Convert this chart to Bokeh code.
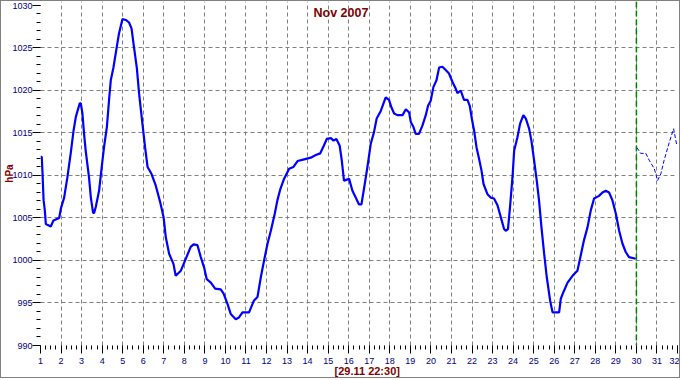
import math
import numpy as np
from bokeh.plotting import figure
from bokeh.models import Range1d, FixedTicker, Span, Label, Title
from bokeh.embed import file_html
from bokeh.resources import INLINE

# measured pressure (day of month, hPa)
day = [1.00, 1.06, 1.10, 1.15, 1.21, 1.26, 1.50, 1.63, 1.91, 1.99, 2.15, 2.31, 2.47, 2.61,
       2.72, 2.91, 2.96, 3.04, 3.12, 3.20, 3.36, 3.45, 3.56, 3.61, 3.69, 3.85, 3.98, 4.09,
       4.23, 4.34, 4.42, 4.55, 4.71, 4.82, 4.99, 5.15, 5.31, 5.43, 5.55, 5.69, 5.80, 5.96,
       6.09, 6.21, 6.40, 6.61, 6.82, 6.99, 7.10, 7.26, 7.47, 7.58, 7.83, 8.07, 8.31, 8.45,
       8.64, 8.80, 8.96, 9.09, 9.29, 9.50, 9.77, 9.91, 10.10, 10.26, 10.50, 10.66, 10.83,
       11.15, 11.39, 11.56, 11.72, 11.88, 12.05, 12.21, 12.40, 12.53, 12.66, 12.85, 13.10,
       13.31, 13.51, 13.83, 14.15, 14.40, 14.61, 14.77, 14.93, 15.13, 15.26, 15.40, 15.56,
       15.66, 15.77, 16.02, 16.18, 16.34, 16.50, 16.62, 16.78, 16.91, 17.07, 17.23, 17.36,
       17.56, 17.80, 17.96, 18.08, 18.21, 18.37, 18.62, 18.78, 18.94, 19.02, 19.15, 19.26,
       19.42, 19.59, 19.75, 19.86, 19.99, 20.12, 20.27, 20.40, 20.56, 20.72, 20.88, 21.05,
       21.21, 21.29, 21.45, 21.61, 21.78, 21.89, 21.99, 22.10, 22.22, 22.34, 22.46, 22.56,
       22.75, 22.91, 23.07, 23.24, 23.40, 23.56, 23.64, 23.75, 23.85, 23.97, 24.05, 24.21,
       24.34, 24.50, 24.62, 24.78, 24.89, 25.02, 25.15, 25.26, 25.38, 25.51, 25.64, 25.80,
       25.92, 26.24, 26.32, 26.45, 26.65, 26.89, 27.13, 27.29, 27.45, 27.62, 27.78, 27.94,
       28.18, 28.35, 28.51, 28.67, 28.83, 29.00, 29.16, 29.32, 29.48, 29.64, 29.97]
hpa = [1012.2, 1012.2, 1010.2, 1007.1, 1005.9, 1004.3, 1004.0, 1004.7, 1005.0, 1006.1,
       1007.4, 1009.8, 1012.6, 1015.3, 1016.9, 1018.5, 1018.5, 1017.3, 1014.9, 1012.9,
       1009.8, 1007.4, 1005.6, 1005.6, 1006.3, 1008.2, 1011.0, 1013.3, 1015.7, 1019.0,
       1021.2, 1022.7, 1025.1, 1026.7, 1028.4, 1028.3, 1028.0, 1027.3, 1025.1, 1022.6,
       1019.6, 1016.1, 1013.3, 1011.0, 1010.2, 1008.8, 1006.9, 1005.1, 1002.7, 1000.8,
       999.6, 998.2, 998.8, 1000.2, 1001.6, 1001.9, 1001.8, 1000.4, 999.2, 997.8, 997.4,
       996.7, 996.6, 996.1, 994.9, 993.7, 993.1, 993.3, 993.9, 993.9, 995.3, 995.7, 998.0,
       1000.0, 1002.0, 1003.5, 1005.5, 1007.1, 1008.3, 1009.6, 1010.8, 1011.0, 1011.7,
       1011.9, 1012.1, 1012.4, 1012.6, 1013.4, 1014.3, 1014.4, 1014.1, 1014.3, 1013.5,
       1011.8, 1009.4, 1009.6, 1008.2, 1007.4, 1006.6, 1006.6, 1009.0, 1011.0, 1013.7,
       1015.1, 1016.7, 1017.6, 1019.2, 1018.9, 1018.0, 1017.3, 1017.1, 1017.1, 1017.8,
       1017.4, 1016.3, 1015.7, 1014.9, 1014.9, 1015.9, 1017.1, 1018.2, 1018.8, 1020.4,
       1021.2, 1022.7, 1022.8, 1022.4, 1022.0, 1021.0, 1020.2, 1019.7, 1020.0, 1018.9,
       1018.9, 1018.2, 1016.7, 1015.3, 1013.3, 1012.0, 1010.6, 1009.0, 1007.8, 1007.4,
       1007.3, 1006.5, 1005.1, 1003.7, 1003.5, 1003.7, 1006.3, 1009.8, 1012.9, 1014.5,
       1016.1, 1017.1, 1016.7, 1015.5, 1014.1, 1011.8, 1009.4, 1007.1, 1003.9, 1000.8,
       998.0, 995.3, 993.9, 993.9, 995.5, 996.3, 997.4, 998.2, 998.8, 1000.6, 1002.4,
       1003.9, 1005.9, 1007.3, 1007.6, 1008.0, 1008.2, 1008.0, 1007.1, 1005.5, 1003.5,
       1002.0, 1001.0, 1000.4, 1000.2]

# forecast
fc_day = [30.02, 30.21, 30.46, 30.62, 30.87, 31.03, 31.19, 31.35, 31.60, 31.81, 31.97]
fc_hpa = [1013.3, 1012.6, 1012.6, 1011.8, 1010.8, 1009.4, 1010.2, 1011.8, 1013.9, 1015.5, 1013.5]

x_ticks = list(range(1, 33))
y_ticks = list(range(990, 1031, 5))
now_day = 30.0
title_text = "Nov 2007"
time_text = "[29.11 22:30]"
unit_text = "hPa"

DARKRED = "#800000"
NAVY = "#000080"
FONT = "Liberation Sans"

p = figure(width=680, height=378, output_backend="svg", toolbar_location=None,
           x_range=Range1d(1, 32), y_range=Range1d(990, 1030.47),
           min_border_left=39, min_border_right=4, min_border_top=0, min_border_bottom=34,
           styles={"border": "1px solid #808080"})
p.outline_line_color = None
p.background_fill_color = "white"
p.border_fill_color = "white"

# axes
p.xaxis.ticker = FixedTicker(ticks=x_ticks, minor_ticks=list(np.arange(1, 32.001, 0.25)))
p.yaxis.ticker = FixedTicker(ticks=y_ticks, minor_ticks=list(range(990, 1031)))
for ax in (p.xaxis[0], p.yaxis[0]):
    ax.axis_line_color = None
    ax.major_tick_in = 0
    ax.major_tick_out = 8
    ax.minor_tick_in = 0
    ax.minor_tick_out = 4
    ax.major_tick_line_color = "black"
    ax.minor_tick_line_color = "black"
    ax.major_label_text_color = NAVY
    ax.major_label_text_font = FONT
    ax.major_label_text_font_size = "9px"
p.xaxis.major_label_standoff = 4
p.yaxis.major_label_standoff = 0

p.yaxis.axis_label = unit_text
p.yaxis.axis_label_text_font = FONT
p.yaxis.axis_label_text_font_style = "bold"
p.yaxis.axis_label_text_font_size = "10px"
p.yaxis.axis_label_text_color = DARKRED
p.yaxis.axis_label_text_line_height = 0.7
p.yaxis.axis_label_standoff = -6

# grids
p.xgrid.ticker = FixedTicker(ticks=list(range(2, 32)))
p.ygrid.ticker = FixedTicker(ticks=list(range(995, 1030, 5)))
for g in (p.xgrid[0], p.ygrid[0]):
    g.grid_line_color = "#808080"
    g.grid_line_dash = "4 3"
    g.grid_line_width = 1

# data
p.line(day, hpa, line_color="#0000FF", line_width=2.2)
p.line(fc_day, fc_hpa, line_color="#0000FF", line_width=1, line_dash="4 2")
p.add_layout(Span(location=now_day, dimension="height", line_color="#008000",
                  line_width=1.5, line_dash="6 3"))

# texts
p.add_layout(Label(x=15.62, y=1029.1, text=title_text, text_align="center",
                   text_baseline="middle", text_font=FONT, text_font_style="bold",
                   text_font_size="12.5px", text_color=DARKRED))
p.add_layout(Title(text=time_text, align="left", offset=294, standoff=-8,
                   text_font=FONT, text_font_style="bold", text_font_size="11px",
                   text_color=DARKRED), "below")

open("out.html", "w").write(file_html(p, INLINE))
